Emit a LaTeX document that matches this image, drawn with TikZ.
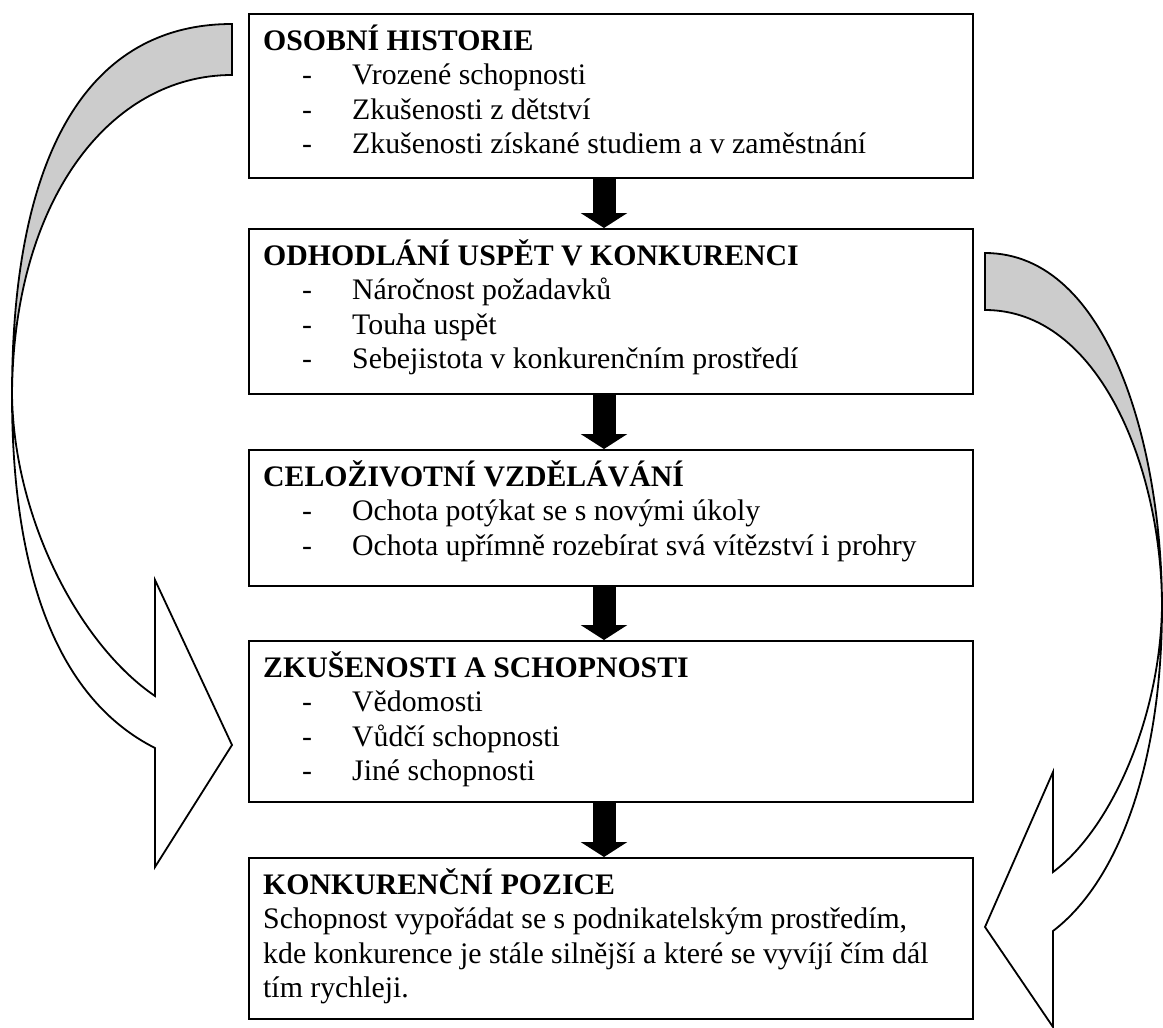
\documentclass[tikz,border=0pt]{standalone}
\usepackage{fontspec}
\setmainfont{Liberation Serif}
\usetikzlibrary{arrows.meta}
\definecolor{bandgray}{RGB}{204,204,204}
\begin{document}
\begin{tikzpicture}[x=1pt,y=-1pt,
  box/.style={draw, line width=2pt, minimum width=724pt, anchor=north west, inner sep=0pt},
  ttl/.style={anchor=base west, inner sep=0pt, font=\fontsize{29.8}{34.5}\selectfont\bfseries},
  itm/.style={anchor=base west, inner sep=0pt, font=\fontsize{29.8}{34.5}\selectfont},
  blockarrow/.style={line width=23pt, -{Triangle[length=15pt,width=46pt]}},
  curvearrow/.style={draw, line width=1.8pt, line join=miter},
]
\useasboundingbox (0,0) rectangle (1163,1028);
\fill[white] (0,0) rectangle (1163,1028);

% curved arrows (left)
\draw[curvearrow, fill=bandgray] (232,24) .. controls (90,24) and (12,150) .. (12,395)
   .. controls (13,200) and (110,75) .. (232,75) -- cycle;
\draw[curvearrow, fill=white] (12,395) .. controls (14,520) and (80,645) .. (155,696)
   -- (155,580) -- (232,745) -- (155,867) -- (155,748)
   .. controls (60,700) and (12,580) .. (12,395) -- cycle;
% curved arrows (right)
\draw[curvearrow, fill=bandgray] (985,253) .. controls (1110,253) and (1162,450) .. (1162,607)
   .. controls (1162,470) and (1100,310) .. (985,310) -- cycle;
\draw[curvearrow, fill=white] (1162,607) .. controls (1160,720) and (1110,830) .. (1053,872)
   -- (1053,772) -- (985,927) -- (1053,1027) -- (1053,931)
   .. controls (1120,880) and (1162,760) .. (1162,607) -- cycle;

% boxes
\node[box, minimum height=164pt] (b1) at (248,13) {};
\node[box, minimum height=165pt] (b2) at (248,228) {};
\node[box, minimum height=136pt] (b3) at (248,449) {};
\node[box, minimum height=161pt] (b4) at (248,640) {};
\node[box, minimum height=161pt] (b5) at (248,857) {};

% box 1
\node[ttl] (t1) at (263,50) {OSOBNÍ HISTORIE};
\node[itm] (d11) at (302,84.5) {-};  \node[itm] (i11) at (352,84.5) {Vrozené schopnosti};
\node[itm] (d12) at (302,119) {-};   \node[itm] (i12) at (352,119) {Zkušenosti z dětství};
\node[itm] (d13) at (302,153.5) {-}; \node[itm] (i13) at (352,153.5) {Zkušenosti získané studiem a v zaměstnání};
% box 2
\node[ttl] (t2) at (263,265) {ODHODLÁNÍ USPĚT V KONKURENCI};
\node[itm] (d21) at (302,299.5) {-}; \node[itm] (i21) at (352,299.5) {Náročnost požadavků};
\node[itm] (d22) at (302,334) {-};   \node[itm] (i22) at (352,334) {Touha uspět};
\node[itm] (d23) at (302,368.5) {-}; \node[itm] (i23) at (352,368.5) {Sebejistota v konkurenčním prostředí};
% box 3
\node[ttl] (t3) at (263,486) {CELOŽIVOTNÍ VZDĚLÁVÁNÍ};
\node[itm] (d31) at (302,520.5) {-}; \node[itm] (i31) at (352,520.5) {Ochota potýkat se s novými úkoly};
\node[itm] (d32) at (302,555) {-};   \node[itm] (i32) at (352,555) {Ochota upřímně rozebírat svá vítězství i prohry};
% box 4
\node[ttl] (t4) at (263,677) {ZKUŠENOSTI A SCHOPNOSTI};
\node[itm] (d41) at (302,711.5) {-}; \node[itm] (i41) at (352,711.5) {Vědomosti};
\node[itm] (d42) at (302,746) {-};   \node[itm] (i42) at (352,746) {Vůdčí schopnosti};
\node[itm] (d43) at (302,780.5) {-}; \node[itm] (i43) at (352,780.5) {Jiné schopnosti};
% box 5
\node[ttl] (t5) at (263,894) {KONKURENČNÍ POZICE};
\node[itm] (p51) at (263,928.5) {Schopnost vypořádat se s podnikatelským prostředím,};
\node[itm] (p52) at (263,963) {kde konkurence je stále silnější a které se vyvíjí čím dál};
\node[itm] (p53) at (263,997.5) {tím rychleji.};

% block arrows
\coordinate (ax) at (604,0);
\draw[blockarrow] (b1.south -| ax) -- (b2.north -| ax);
\draw[blockarrow] (b2.south -| ax) -- (b3.north -| ax);
\draw[blockarrow] (b3.south -| ax) -- (b4.north -| ax);
\draw[blockarrow] (b4.south -| ax) -- (b5.north -| ax);
\end{tikzpicture}
\end{document}
